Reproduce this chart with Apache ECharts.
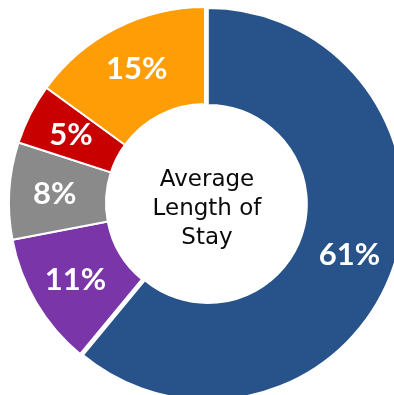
<!DOCTYPE html>
<html>
<head>
<meta charset="utf-8">
<script src="https://cdn.jsdelivr.net/npm/echarts@6/dist/echarts.min.js"></script>
<style>
html,body{margin:0;padding:0;background:#fff;}
#c{width:394px;height:395px;}
</style>
</head>
<body>
<div id="c"></div>
<script>
const categories = ["A", "B", "C", "D", "E"];
const values = [61, 11, 8, 5, 15];
const colors = ["#27538A", "#7A36A8", "#8A8A8A", "#C90000", "#FF9D06"];
const centerText = "Average\nLength of\nStay";

const chart = echarts.init(document.getElementById('c'), null, {renderer: 'canvas'});
chart.setOption({
  animation: false,
  backgroundColor: '#ffffff',
  graphic: [{
    type: 'text',
    x: 207, y: 209,
    style: {
      text: centerText,
      textAlign: 'center',
      textVerticalAlign: 'middle',
      fontFamily: 'DejaVu Sans',
      fontSize: 23,
      lineHeight: 29,
      fill: '#0a0a0a'
    }
  }],
  series: [{
    type: 'pie',
    center: [205, 203],
    radius: [99, 196],
    startAngle: 90,
    clockwise: true,
    selectedMode: 'single',
    selectedOffset: 3,
    avoidLabelOverlap: false,
    emphasis: {disabled: true},
    itemStyle: {borderColor: '#ffffff', borderWidth: 2},
    label: {
      show: true,
      position: 'inside',
      formatter: '{c}%',
      color: '#ffffff',
      fontFamily: 'Lato',
      fontWeight: 'bold',
      fontSize: 31
    },
    labelLine: {show: false},
    data: categories.map((n, i) => ({
      name: n,
      value: values[i],
      selected: i === 0,
      itemStyle: {color: colors[i]}
    }))
  }]
});
</script>
</body>
</html>
